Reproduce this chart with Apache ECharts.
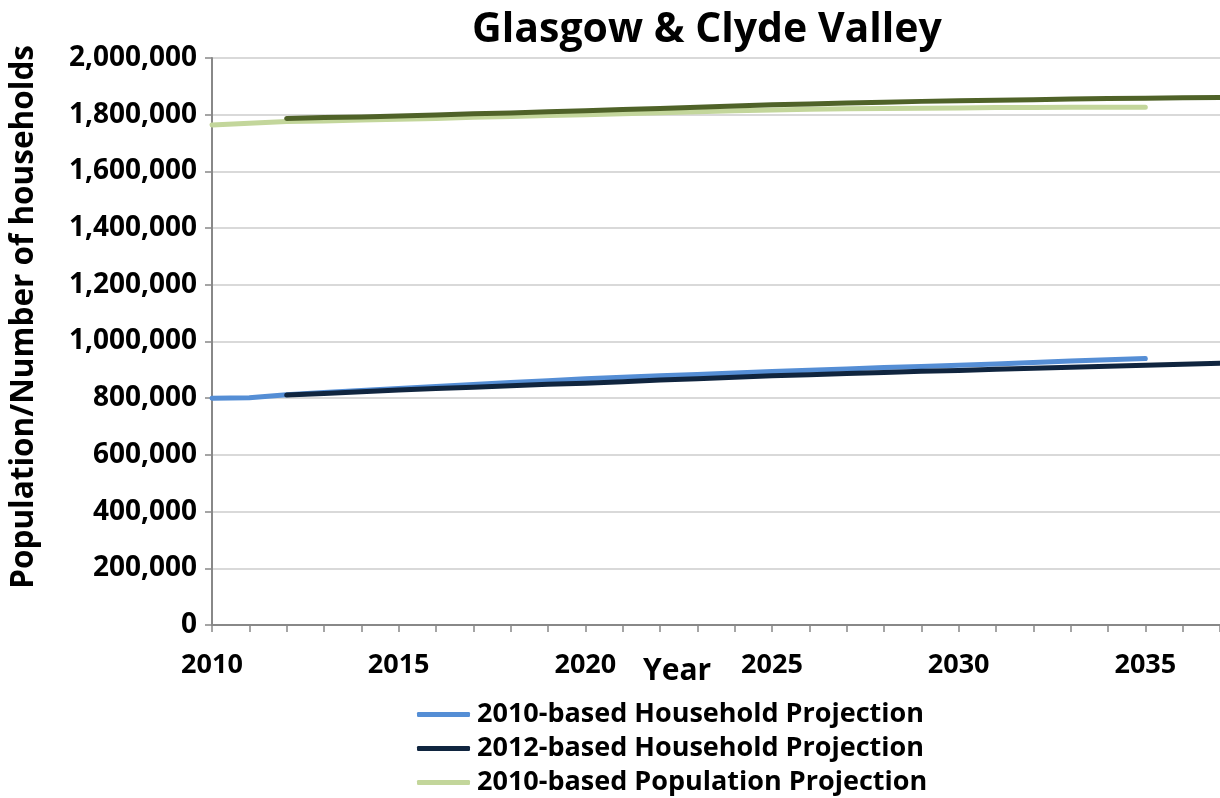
<!DOCTYPE html>
<html>
<head>
<meta charset="utf-8">
<script src="https://cdn.jsdelivr.net/npm/echarts@6/dist/echarts.min.js"></script>
<style>
  html, body { margin: 0; padding: 0; background: #fff; }
  #chart { width: 1220px; height: 798px; }
</style>
</head>
<body>
<div id="chart"></div>
<script>
// years on the x axis
const years = [];
for (let y = 2010; y <= 2037; y++) years.push(y);

// 2010-based household projection, 2010-2035
const hh2010 = [800000, 802000, 812000, 820000, 827000, 834000, 841000, 848000, 855000, 862000,
  869000, 874000, 879000, 884000, 889000, 894000, 899000, 903000, 908000, 912000,
  916000, 921000, 926000, 931000, 936000, 940000];

// 2012-based household projection, 2012-2037
const hh2012 = [811000, 817000, 823000, 829000, 834000, 839000, 844000, 849000, 853000, 858000,
  864000, 869000, 874000, 879000, 883000, 887000, 891000, 895000, 898000, 902000,
  906000, 909000, 913000, 916000, 920000, 923000];

// 2010-based population projection, 2010-2035
const pop2010 = [1764000, 1770000, 1776000, 1778000, 1781000, 1784000, 1787000, 1791000, 1794000, 1797000,
  1800000, 1803000, 1807000, 1810000, 1814000, 1817000, 1819000, 1821000, 1822000, 1823000,
  1824000, 1825000, 1825000, 1826000, 1826000, 1826000];

// 2012-based population projection (not in the visible legend), 2012-2037
const pop2012 = [1787000, 1790000, 1792000, 1795000, 1799000, 1803000, 1806000, 1810000, 1814000, 1818000,
  1822000, 1826000, 1831000, 1835000, 1838000, 1841000, 1844000, 1847000, 1849000, 1851000,
  1853000, 1855000, 1857000, 1858000, 1860000, 1861000];

const legendNames = ['2010-based Household Projection', '2012-based Household Projection', '2010-based Population Projection'];

function pairs(startYear, vals) {
  return vals.map((v, i) => [startYear + i, v]);
}

const FONT = '"Open Sans", "Noto Sans", sans-serif';

const chart = echarts.init(document.getElementById('chart'), null, { renderer: 'canvas' });

function lineSeries(name, data, color) {
  return {
    name: name,
    type: 'line',
    data: data,
    showSymbol: false,
    symbol: 'none',
    lineStyle: { color: color, width: 5, cap: 'round', join: 'round' },
    itemStyle: { color: color },
    emphasis: { disabled: true },
  };
}

chart.setOption({
  animation: false,
  backgroundColor: '#fff',
  title: {
    text: 'Glasgow & Clyde Valley',
    left: 702,
    top: 5,
    textAlign: 'center',
    textStyle: { fontFamily: FONT, fontWeight: 'bold', fontSize: 41, color: '#000' },
  },
  legend: {
    orient: 'vertical',
    left: 417,
    top: 701,
    height: 120,
    padding: 0,
    itemWidth: 53,
    itemHeight: 5,
    itemGap: 7,
    icon: 'roundRect',
    data: legendNames,
    textStyle: { fontFamily: FONT, fontWeight: 'bold', fontSize: 27, color: '#000', padding: [0, 0, 0, 2] },
  },
  grid: { left: 212, right: -3, top: 58, bottom: 173, containLabel: false },
  xAxis: {
    type: 'value',
    min: 2010,
    max: 2037,
    interval: 5,
    axisLine: { show: true, lineStyle: { color: '#888', width: 2 } },
    axisTick: { show: true, length: 7, lineStyle: { color: '#888', width: 1.5 } },
    minorTick: { show: true, splitNumber: 5, length: 7, lineStyle: { color: '#888', width: 1.5 } },
    splitLine: { show: false },
    axisLabel: {
      showMaxLabel: false,
      margin: 27,
      fontFamily: FONT, fontWeight: 'bold', fontSize: 27, color: '#000',
      formatter: v => String(v),
    },
  },
  yAxis: {
    type: 'value',
    min: 0,
    max: 2000000,
    interval: 200000,
    axisLine: { show: true, lineStyle: { color: '#888', width: 2 } },
    axisTick: { show: true, length: 7, lineStyle: { color: '#888', width: 1.5 } },
    splitLine: { show: true, lineStyle: { color: '#d9d9d9', width: 2 } },
    axisLabel: {
      margin: 15,
      fontFamily: FONT, fontWeight: 'bold', fontSize: 28, color: '#000',
      formatter: v => v.toLocaleString('en-US'),
    },
  },
  graphic: [
    {
      type: 'text',
      left: 8,
      top: 45,
      rotation: Math.PI / 2,
      style: {
        text: 'Population/Number of households',
        fontFamily: FONT, fontWeight: 'bold', fontSize: 31.5, fill: '#000',
      },
    },
    {
      type: 'text',
      left: 643,
      top: 656,
      style: {
        text: 'Year',
        fontFamily: FONT, fontWeight: 'bold', fontSize: 30, fill: '#000',
      },
    },
  ],
  series: [
    lineSeries(legendNames[0], pairs(2010, hh2010), '#558ED5'),
    lineSeries(legendNames[1], pairs(2012, hh2012), '#10253F'),
    lineSeries(legendNames[2], pairs(2010, pop2010), '#C3D69B'),
    lineSeries('2012-based Population Projection', pairs(2012, pop2012), '#4F6228'),
  ],
});
</script>
</body>
</html>
